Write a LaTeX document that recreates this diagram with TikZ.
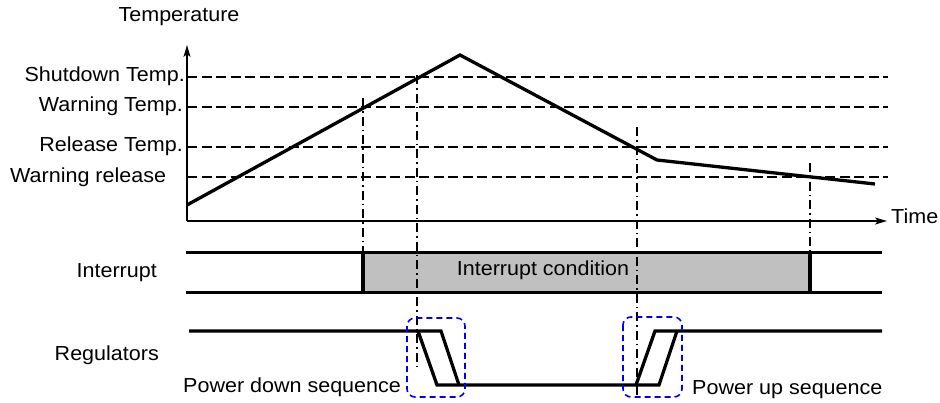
\documentclass[tikz,border=0pt]{standalone}
\usepackage{fontspec}
\setmainfont{Liberation Sans}[FakeStretch=1.06]
\usetikzlibrary{arrows.meta}
\definecolor{boxgray}{RGB}{192,192,192}
\definecolor{seqblue}{RGB}{0,0,240}
\begin{document}
\begin{tikzpicture}[x=1pt,y=-1pt,
 lbl/.style={font=\fontsize{20.3}{24}\selectfont, inner sep=0pt},
 thr/.style={dash pattern=on 10pt off 4.5pt, line width=1.6pt},
 vmark/.style={dash pattern=on 9pt off 4pt on 1.5pt off 4pt, line width=1.4pt},
 sig/.style={line width=3.3pt},
 seqbox/.style={draw=seqblue, dash pattern=on 6pt off 4pt, line width=1.6pt, rounded corners=8pt},
 axis/.style={line width=1.5pt, -{Stealth[length=12pt,width=7pt,inset=3pt]}}]
\useasboundingbox (0,0) rectangle (940,402);
% gray interrupt box
\fill[boxgray] (363,252.3) rectangle (810,292.3);
% threshold lines
\draw[thr] (187,76.7) -- (888,76.7);
\draw[thr] (187,106.7) -- (888,106.7);
\draw[thr] (187,146.7) -- (888,146.7);
\draw[thr] (187,176.7) -- (888,176.7);
% event markers
\draw[vmark] (363,98) -- (363,252);
\draw[vmark] (417,75) -- (417,366);
\draw[vmark] (637,127) -- (637,397);
\draw[vmark] (810,163) -- (810,252);
% axes
\draw[axis] (187,221) -- (187,45);
\draw[axis] (187,221) -- (887,221);
% temperature curve
\draw[sig, line join=miter] (187,205) -- (460,55) -- (657,160) -- (875,184);
% interrupt signal
\draw[sig] (186,252.3) -- (882,252.3);
\draw[sig] (186,292.3) -- (882,292.3);
\draw[sig] (363,252.3) -- (363,292.3);
\draw[sig] (810,252.3) -- (810,292.3);
% regulators
\draw[sig, line join=miter] (189,331) -- (441,331) -- (459,385);
\draw[sig, line join=miter] (418,331) -- (437,385) -- (636,385) -- (655,331) -- (882,331);
\draw[sig, line join=miter] (636,385) -- (659,385) -- (677,331);
% sequence boxes
\draw[seqbox] (407,318) rectangle (465,397);
\draw[seqbox] (623,317) rectangle (682,397);
% labels
\node[lbl] (temp) at (179,17) {Temperature};
\node[lbl, anchor=west] (time) at (891,216) {Time};
\node[lbl, anchor=east] (shut) at (185,76.7) {Shutdown Temp.};
\node[lbl, anchor=east] (warn) at (183,106.7) {Warning Temp.};
\node[lbl, anchor=east] (rel) at (183,146.7) {Release Temp.};
\node[lbl, anchor=west] (wrel) at (10,177.5) {Warning release};
\node[lbl, anchor=east] (intl) at (157,273) {Interrupt};
\node[lbl] (intc) at (543,270) {Interrupt condition};
\node[lbl, anchor=east] (regl) at (159,355) {Regulators};
\node[lbl, anchor=west] (pdown) at (183,387) {Power down sequence};
\node[lbl, anchor=west] (pup) at (692,390) {Power up sequence};
\end{tikzpicture}
\end{document}
